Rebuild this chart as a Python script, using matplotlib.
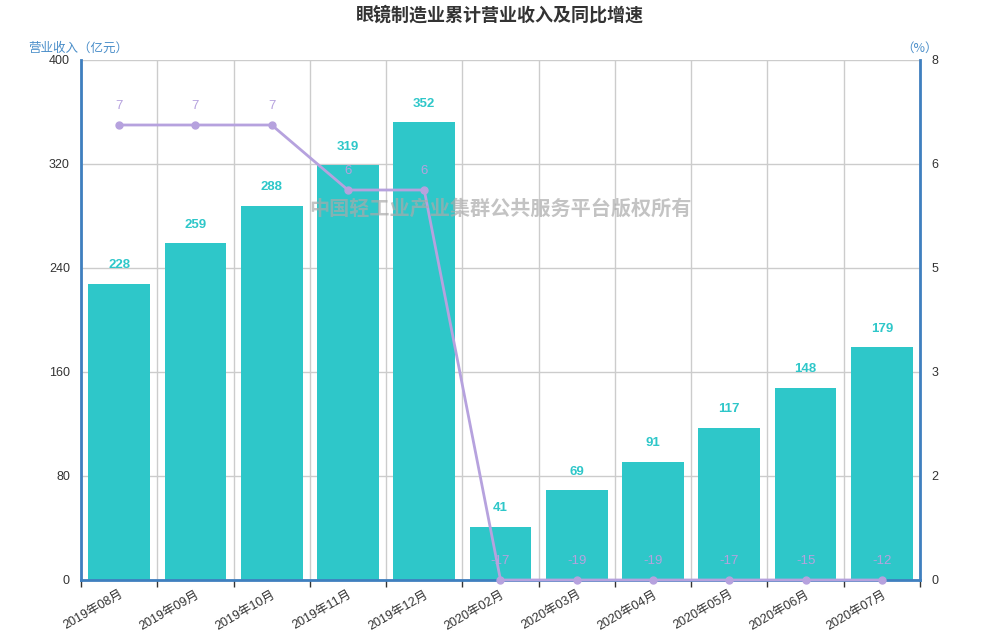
import matplotlib
matplotlib.use("Agg")
import matplotlib.pyplot as plt
import numpy as np

plt.rcParams['font.family'] = ['Liberation Sans', 'Noto Sans CJK SC', 'DejaVu Sans']

months = ["2019年08月", "2019年09月", "2019年10月", "2019年11月", "2019年12月",
          "2020年02月", "2020年03月", "2020年04月", "2020年05月", "2020年06月", "2020年07月"]
revenue = [228, 259, 288, 319, 352, 41, 69, 91, 117, 148, 179]
growth = [7, 7, 7, 6, 6, -17, -19, -19, -17, -15, -12]
left_ticks = [0, 80, 160, 240, 320, 400]
right_ticks = [0, 1.6, 3.2, 4.8, 6.4, 8]

title = "眼镜制造业累计营业收入及同比增速"
watermark = "中国轻工业产业集群公共服务平台版权所有"

bar_color = "#2ec7c9"
line_color = "#b6a2de"
axis_color = "#3f7fbf"
grid_color = "#cccccc"
text_color = "#333333"
cjk = ['Noto Sans CJK SC', 'DejaVu Sans']

fig = plt.figure(figsize=(10, 6.4), dpi=100)
ax = fig.add_axes([0.081, 0.09375, 0.839, 0.8125])
ax2 = ax.twinx()

x = np.arange(len(months))
ax.bar(x, revenue, width=0.81, color=bar_color, zorder=2)
ax.set_xlim(-0.5, len(months) - 0.5)
ax.set_ylim(0, 400)
ax.set_yticks(left_ticks)
ax.set_yticklabels([str(t) for t in left_ticks], fontsize=9, color=text_color)

# grid
ax.set_axisbelow(True)
ax.yaxis.grid(True, color=grid_color, linewidth=1)
for b in np.arange(-0.5, len(months) + 0.5, 1):
    ax.axvline(b, color=grid_color, linewidth=1, zorder=0)

ax.set_xticks(x)
ax.set_xticklabels(months, rotation=30, ha='right', rotation_mode='anchor',
                   fontsize=9, color=text_color)
ax.tick_params(axis='x', length=0, pad=6)
ax.set_xticks(np.arange(-0.5, len(months) + 0.5, 1), minor=True)
ax.tick_params(axis='x', which='minor', length=5, color=text_color, width=1)
ax.tick_params(axis='y', length=0, pad=8)

for s in ['top', 'right']:
    ax.spines[s].set_visible(False)
ax.spines['left'].set_color(axis_color)
ax.spines['left'].set_linewidth(2)
ax.spines['bottom'].set_color(axis_color)
ax.spines['bottom'].set_linewidth(2)

for xi, v in zip(x, revenue):
    ax.annotate(str(v), (xi, v), xytext=(0, 9), textcoords='offset points',
                ha='center', va='bottom', fontsize=9.5, fontweight='bold',
                color=bar_color)

# line on right axis (negative values sit on the axis floor)
ax2.set_ylim(0, 8)
gplot = np.clip(np.array(growth, dtype=float), 0, None)
ax2.plot(x, gplot, color=line_color, linewidth=2, marker='o', markersize=5,
         zorder=5, clip_on=False)
for xi, yv, v in zip(x, gplot, growth):
    ax2.annotate(str(v), (xi, yv), xytext=(0, 9.5), textcoords='offset points',
                 ha='center', va='bottom', fontsize=9.5, color=line_color)
ax2.set_yticks(right_ticks)
ax2.set_yticklabels([str(int(round(t))) for t in right_ticks], fontsize=9, color=text_color)
ax2.tick_params(axis='y', length=0, pad=8)
for s in ['top', 'left', 'bottom']:
    ax2.spines[s].set_visible(False)
ax2.spines['right'].set_color(axis_color)
ax2.spines['right'].set_linewidth(2)

fig.text(0.5, 0.977, title, ha='center', va='center', fontsize=13,
         fontweight='bold', color=text_color, family=cjk)
fig.text(0.078, 0.925, "营业收入（亿元）", ha='center', va='center', fontsize=9,
         color="#4a8ec9", family=cjk)
fig.text(0.92, 0.925, "（%）", ha='center', va='center', fontsize=9, color="#4a8ec9",
         family=cjk)
fig.text(0.5, 0.674, watermark, ha='center', va='center', fontsize=14.5,
         fontweight='bold', color="#aaaaaa", alpha=0.7, zorder=10, family=cjk)

fig.savefig("out.png", dpi=100)
